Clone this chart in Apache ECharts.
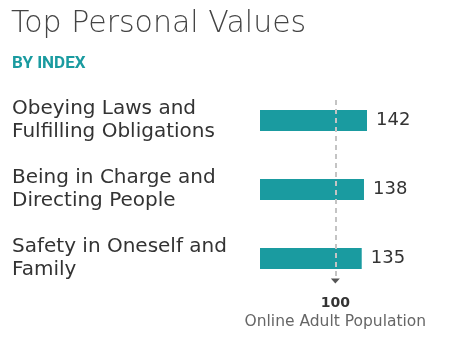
<!DOCTYPE html>
<html>
<head>
<meta charset="utf-8">
<script src="https://cdn.jsdelivr.net/npm/echarts@6/dist/echarts.min.js"></script>
<style>html,body{margin:0;padding:0;background:#fff;}#c{width:452px;height:351px;}</style>
</head>
<body>
<div id="c"></div>
<script>
const titleText = 'Top Personal Values';
const subtitleText = 'BY INDEX';
const categories = ['Obeying Laws and\nFulfilling Obligations', 'Being in Charge and\nDirecting People', 'Safety in Oneself and\nFamily'];
const values = [142, 138, 135];
const baseline = 100;
const baselineLabel = 'Online Adult Population';
const xMin = 0, xMax = 200, xInterval = 100;

const teal = '#1a9ba0';
const chart = echarts.init(document.getElementById('c'), null, {renderer: 'canvas'});
const gridLeft = 260, gridWidth = 150.7;
chart.setOption({
  animation: false,
  backgroundColor: '#fff',
  title: [
    {text: titleText, left: 11, top: 9, padding: 0, textStyle: {fontFamily: 'DejaVu Sans', fontWeight: 200, fontSize: 30, color: '#444'}},
    {text: subtitleText, left: 12, top: 55, padding: 0, textStyle: {fontFamily: 'Roboto', fontWeight: 'bold', fontSize: 17, color: teal}}
  ],
  grid: [
    {left: gridLeft, width: gridWidth, top: 86, height: 207},
    {left: gridLeft, width: gridWidth, top: 96, height: 180}
  ],
  xAxis: [
    {type: 'value', gridIndex: 0, min: xMin, max: xMax, show: false},
    {type: 'value', gridIndex: 1, min: xMin, max: xMax, interval: xInterval,
     axisLine: {show: false}, axisTick: {show: false}, splitLine: {show: false},
     axisLabel: {
       margin: 18, verticalAlign: 'top',
       formatter: v => v === baseline ? '{b|' + v + '}\n{n|' + baselineLabel + '}' : '',
       rich: {
         b: {fontFamily: 'DejaVu Sans', fontWeight: 'bold', fontSize: 14, color: '#333', lineHeight: 18, align: 'center'},
         n: {fontFamily: 'DejaVu Sans', fontSize: 15.5, color: '#666', lineHeight: 20, align: 'center'}
       }
     }}
  ],
  yAxis: [
    {type: 'category', gridIndex: 0, data: categories, inverse: true,
     axisLine: {show: false}, axisTick: {show: false},
     axisLabel: {margin: gridLeft - 12, align: 'left', padding: [4, 0, 0, 0], fontFamily: 'DejaVu Sans', fontSize: 20, lineHeight: 23.5, color: '#333'}},
    {type: 'value', gridIndex: 1, min: 0, max: 1, show: false}
  ],
  series: [
    {type: 'bar', xAxisIndex: 0, yAxisIndex: 0, data: values, barWidth: 21,
     itemStyle: {color: teal},
     label: {show: true, position: 'right', distance: 9, fontFamily: 'DejaVu Sans', fontSize: 18, color: '#333'}},
    {type: 'line', xAxisIndex: 1, yAxisIndex: 1, data: [], silent: true,
     markLine: {silent: true, symbol: 'none', label: {show: false},
       lineStyle: {type: [5, 4], color: '#c4c4c4', width: 2},
       data: [{xAxis: baseline}]},
     markPoint: {silent: true, symbol: 'triangle', symbolRotate: 180, symbolSize: [9, 5], symbolOffset: [0, 5],
       itemStyle: {color: '#555'}, label: {show: false},
       data: [{coord: [baseline, 0]}]}
    }
  ]
});
</script>
</body>
</html>
